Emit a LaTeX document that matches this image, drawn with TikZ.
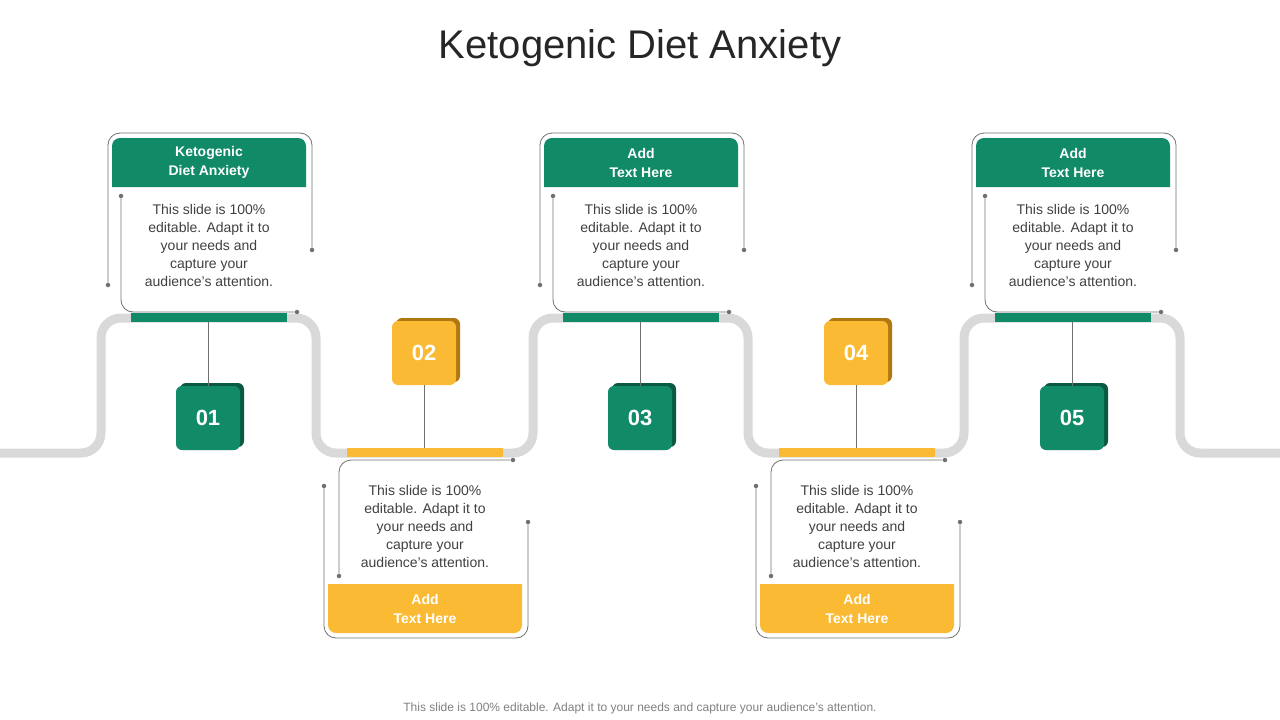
\documentclass[tikz,border=0pt]{standalone}
\usepackage{fontspec}
\setmainfont{Liberation Sans}
\usetikzlibrary{calc}
\definecolor{keygreen}{HTML}{108A67}
\definecolor{keygreendk}{HTML}{0A5A43}
\definecolor{keyyellow}{HTML}{FBBA33}
\definecolor{keyyellowdk}{HTML}{B07810}
\definecolor{trackgray}{HTML}{D9D9D9}
\definecolor{wiregray}{HTML}{707070}
\definecolor{bodygray}{HTML}{404040}
\tikzset{
  numbox/.style={rounded corners=6pt,minimum width=64pt,minimum height=64pt,text=white,font=\fontsize{22}{24}\selectfont\bfseries},
  headtext/.style={text=white,align=center,font=\fontsize{14}{19}\selectfont\bfseries},
  bodytext/.style={align=center,text=bodygray,font=\fontsize{14}{18}\selectfont},
  wire/.style={draw=wiregray,line width=0.8pt,rounded corners=12pt},
  tip/.style={circle,fill=wiregray,inner sep=0pt,minimum size=4.5pt}
}
\begin{document}
\begin{tikzpicture}[x=1pt,y=-1pt]
\useasboundingbox (0,0) rectangle (1280,720);
\node[text=black!85] (title) at (640,48) {\fontsize{40}{44}\selectfont Ketogenic Diet Anxiety};
\node[text=gray,font=\fontsize{12}{14}\selectfont] (foot) at (640,708) {This slide is 100\% editable. Adapt it to your needs and capture your audience's attention.};
% track
\draw[trackgray,line width=9pt,rounded corners=20pt] (0,453) -- (101,453) -- (101,318) -- (316,318) -- (316,453) -- (533,453) -- (533,318) -- (748,318) -- (748,453) -- (964,453) -- (964,318) -- (1180,318) -- (1180,453) -- (1280,453);
% upper steps
\foreach \i/\num/\head in {0/01/{Ketogenic\\Diet Anxiety},2/03/{Add\\Text Here},4/05/{Add\\Text Here}}{
  \pgfmathsetmacro{\cx}{209+216*\i}
  \fill[keygreen] (\cx-78,313) rectangle (\cx+78,322);
  \coordinate (bar\num) at (\cx-1,322);
  \fill[keygreendk,rounded corners=6pt] (\cx-29,383) rectangle (\cx+35,447);
  \node[numbox,fill=keygreen] (n\num) at (\cx-1,418) {\num};
  \draw[wiregray,line width=0.8pt] (bar\num) -- (n\num);
  \fill[keygreen] (\cx-97,187) -- (\cx-97,146) [rounded corners=8pt] -- (\cx-97,138) -- (\cx+97,138) [sharp corners] -- (\cx+97,187) -- cycle;
  \node[headtext] (h\num) at (\cx,162.5) {\head};
  \node[bodytext] (b\num) at (\cx,245) {This slide is 100\%\\editable. Adapt it to\\your needs and\\capture your\\audience's attention.};
  \node[tip] (o1\num) at (\cx-101,285) {};
  \node[tip] (o2\num) at (\cx+103,250) {};
  \node[tip] (i1\num) at (\cx-88,196) {};
  \node[tip] (i2\num) at (\cx+88,312) {};
  \draw[wire] (o1\num) -- (\cx-101,133) -- (\cx+103,133) -- (o2\num);
  \draw[wire] (i1\num) -- (\cx-88,312) -- (i2\num);
}
% lower steps
\foreach \i/\num in {1/02,3/04}{
  \pgfmathsetmacro{\cx}{209+216*\i}
  \fill[keyyellow] (\cx-78,448) rectangle (\cx+78,457);
  \coordinate (bar\num) at (\cx-1,448);
  \fill[keyyellowdk,rounded corners=6pt] (\cx-29,318) rectangle (\cx+35,382);
  \node[numbox,fill=keyyellow] (n\num) at (\cx-1,353) {\num};
  \draw[wiregray,line width=0.8pt] (n\num) -- (bar\num);
  \fill[keyyellow] (\cx-97,584) -- (\cx+97,584) [rounded corners=8pt] -- (\cx+97,633) -- (\cx-97,633) [sharp corners] -- (\cx-97,584) -- cycle;
  \node[headtext] (h\num) at (\cx,608.5) {Add\\Text Here};
  \node[bodytext] (b\num) at (\cx,526) {This slide is 100\%\\editable. Adapt it to\\your needs and\\capture your\\audience's attention.};
  \node[tip] (o1\num) at (\cx-101,486) {};
  \node[tip] (o2\num) at (\cx+103,522) {};
  \node[tip] (i1\num) at (\cx-86,576) {};
  \node[tip] (i2\num) at (\cx+88,460) {};
  \draw[wire] (o1\num) -- (\cx-101,638) -- (\cx+103,638) -- (o2\num);
  \draw[wire] (i1\num) -- (\cx-86,460) -- (i2\num);
}
\end{tikzpicture}
\end{document}
